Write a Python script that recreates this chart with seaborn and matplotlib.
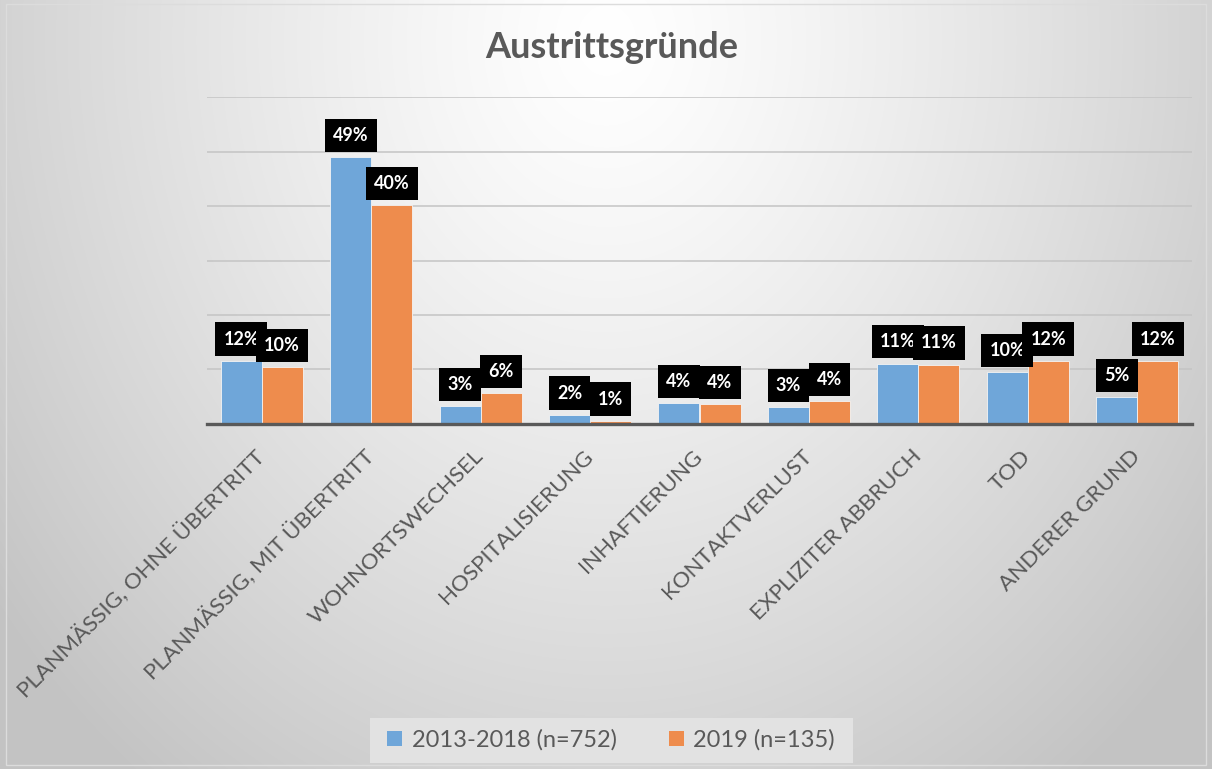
import numpy as np
import pandas as pd
import matplotlib
matplotlib.use("Agg")
import matplotlib.pyplot as plt
from matplotlib.patches import Patch, Rectangle
import seaborn as sns

# Austrittsgründe, Anteile in Prozent
gruende = [
    "PLANMÄSSIG, OHNE ÜBERTRITT",
    "PLANMÄSSIG, MIT ÜBERTRITT",
    "WOHNORTSWECHSEL",
    "HOSPITALISIERUNG",
    "INHAFTIERUNG",
    "KONTAKTVERLUST",
    "EXPLIZITER ABBRUCH",
    "TOD",
    "ANDERER GRUND",
]
werte_2013_2018 = [11.6, 48.9, 3.3, 1.7, 3.8, 3.1, 11.1, 9.5, 4.9]
werte_2019 = [10.4, 40.2, 5.7, 0.6, 3.6, 4.2, 10.9, 11.6, 11.6]
perioden = ["2013-2018 (n=752)", "2019 (n=135)"]

BLAU = "#6FA6D9"
ORANGE = "#EE8C4D"
GRAU = "#595959"

df = pd.DataFrame({
    "grund": gruende * 2,
    "anteil": werte_2013_2018 + werte_2019,
    "periode": [perioden[0]] * len(gruende) + [perioden[1]] * len(gruende),
})

sns.set_theme(style="white")
plt.rcParams["font.family"] = ["Lato", "DejaVu Sans"]

fig = plt.figure(figsize=(12.12, 7.69), dpi=100)

# Hintergrund mit Verlauf (hell oben in der Mitte, grauer zu den Ecken)
bg = fig.add_axes([0, 0, 1, 1], zorder=-10)
yy, xx = np.mgrid[0:769, 0:1212]
d = np.sqrt(((xx - 606) / 606.0) ** 2 + ((yy - 40) / 729.0) ** 2)
grau = np.clip(255 - 44 * d ** 1.25, 195, 255) / 255.0
bg.imshow(np.dstack([grau, grau, grau]), aspect="auto", interpolation="bilinear")
bg.set_axis_off()
fig.patches.append(Rectangle((6 / 1212, 4 / 769), 1200 / 1212, 761 / 769,
                             transform=fig.transFigure, fill=False,
                             edgecolor="#dcdcdc", lw=1.0, zorder=-5))

ax = fig.add_axes([207 / 1212, 1 - 424 / 769, 985 / 1212, 327 / 769])
ax.set_facecolor("none")

sns.barplot(data=df, x="grund", y="anteil", hue="periode", order=gruende,
            hue_order=perioden, palette=[BLAU, ORANGE], saturation=1,
            width=0.75, edgecolor="#f4f4f4", linewidth=0.6, legend=False, ax=ax,
            zorder=3)

ax.set_ylim(0, 60)
ax.set_xlim(-0.5, len(gruende) - 0.5)
ax.set_yticks(np.arange(10, 61, 10))
ax.set_yticklabels([])
ax.tick_params(axis="y", length=0)
ax.yaxis.grid(True, color="#c4c4c4", lw=1.1)
ax.set_axisbelow(True)
for s in ["left", "right", "top"]:
    ax.spines[s].set_visible(False)
ax.spines["bottom"].set_color(GRAU)
ax.spines["bottom"].set_linewidth(2.4)
ax.spines["bottom"].set_zorder(5)
ax.set_xlabel("")
ax.set_ylabel("")

ax.tick_params(axis="x", length=0, pad=21, colors=GRAU, labelsize=16.2)
for lbl in ax.get_xticklabels():
    lbl.set_rotation(45)
    lbl.set_ha("right")
    lbl.set_va("center")
    lbl.set_rotation_mode("anchor")

# Datenbeschriftungen: schwarze Kästchen mit weisser Schrift
for cont in ax.containers:
    for bar in cont:
        h = bar.get_height()
        ax.annotate(f"{h:.0f}%", (bar.get_x() + bar.get_width() / 2, h),
                    xytext=(0, 9.5), textcoords="offset points",
                    ha="center", va="bottom", color="white", fontsize=13,
                    fontweight="bold", zorder=6,
                    bbox=dict(boxstyle="square,pad=0.45", fc="black", ec="none"))

fig.text(0.505, 1 - 47 / 769, "Austrittsgründe", ha="center", va="center",
         fontsize=26, fontweight="bold", color=GRAU)

# Legende unten
fig.patches.append(Rectangle((370 / 1212, 1 - 763 / 769), 483 / 1212, 45 / 769,
                             transform=fig.transFigure, fc="#e2e2e2",
                             ec="none", zorder=1))
handles = [Patch(facecolor=BLAU, edgecolor="none"),
           Patch(facecolor=ORANGE, edgecolor="none")]
fig.legend(handles, perioden, loc="center", ncol=2, frameon=False,
           bbox_to_anchor=(0.504, 1 - 740 / 769), fontsize=17,
           labelcolor=GRAU, handlelength=0.65, handleheight=0.65,
           handletextpad=0.4, columnspacing=2.2)

fig.savefig("out.png", dpi=100)
